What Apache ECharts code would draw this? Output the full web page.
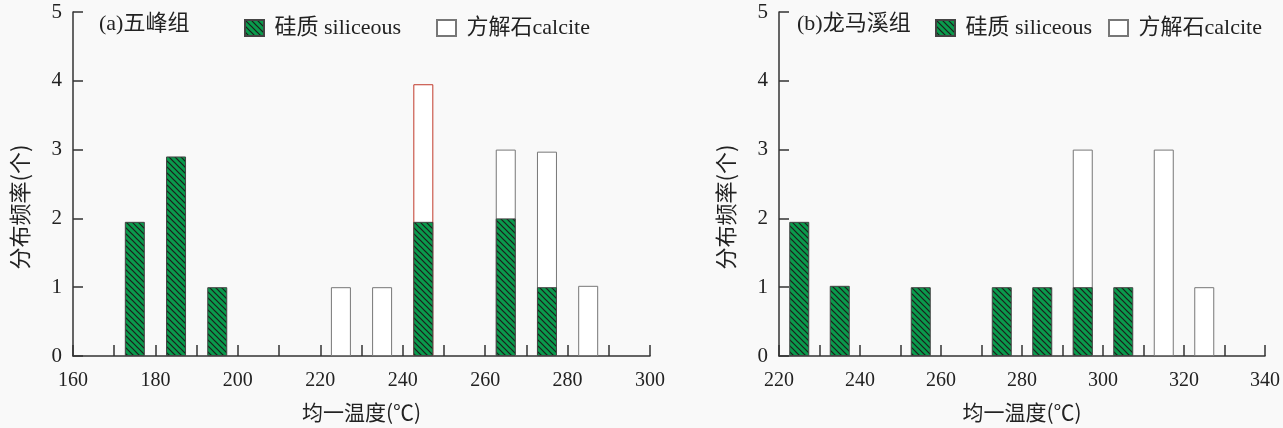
<!DOCTYPE html>
<html>
<head>
<meta charset="utf-8">
<script src="https://cdn.jsdelivr.net/npm/echarts@6.0.0/dist/echarts.min.js"></script>
<style>
  html, body { margin: 0; padding: 0; background: #f9f9f9; }
  #chart { width: 1283px; height: 428px; }
</style>
</head>
<body>
<div id="chart"></div>
<script>
// (a) 五峰组 -- bin centres and counts
const binsA = [175, 185, 195, 225, 235, 245, 265, 275, 285];
const siliceousA = [1.95, 2.9, 1, '-', '-', 1.95, 2, 1, '-'];
const calciteA = ['-', '-', '-', 1, 1, 2, 1, 1.97, 1.02];
// (b) 龙马溪组
const binsB = [225, 235, 255, 275, 285, 295, 305, 315, 325];
const siliceousB = [1.95, 1.02, 1, 1, 1, 1, 1, '-', '-'];
const calciteB = ['-', '-', '-', '-', '-', 2, '-', 3, 1];

const xRangeA = [160, 300];
const xRangeB = [220, 340];
const yRange = [0, 5];

const titles = ['(a)五峰组', '(b)龙马溪组'];
const nameSil = '硅质 siliceous';
const nameCal = '方解石calcite';

const SERIF = '"Liberation Serif", "Noto Sans CJK SC", serif';
const CJK = '"Noto Sans CJK SC", "Liberation Serif", sans-serif';

// green fill with black "\" hatching
function hatch() {
  const s = 6;
  const c = document.createElement('canvas');
  c.width = s; c.height = s;
  const g = c.getContext('2d');
  g.fillStyle = '#0a9a4c';
  g.fillRect(0, 0, s, s);
  g.strokeStyle = '#1c1c1c';
  g.lineWidth = 1.2;
  g.beginPath();
  g.moveTo(-1, -1); g.lineTo(s + 1, s + 1);
  g.moveTo(-1, s - 1); g.lineTo(1, s + 1);
  g.moveTo(s - 1, -1); g.lineTo(s + 1, 1);
  g.stroke();
  return c;
}
const hatchFill = { image: hatch(), repeat: 'repeat' };

const pairs = (bins, vals) => bins.map((b, i) => [b, vals[i]]);
// calcite sits on top of the siliceous part of the same bin
const tops = (sil, cal) => cal.map((c, i) => (c === '-' ? '-' : c + (sil[i] === '-' ? 0 : sil[i])));

function xAxisOf(idx, range) {
  return {
    type: 'value', gridIndex: idx, min: range[0], max: range[1], interval: 10,
    name: '均一温度(℃)', nameLocation: 'middle', nameGap: 46,
    nameTextStyle: { fontFamily: CJK, fontSize: 21, color: '#222' },
    axisLine: { lineStyle: { color: '#333', width: 1.5 } },
    axisTick: { inside: true, length: 11, lineStyle: { color: '#333', width: 1.5 } },
    axisLabel: {
      fontFamily: SERIF, fontSize: 20, color: '#222', margin: 15,
      formatter: v => (v % 20 === 0 ? v : '')
    },
    splitLine: { show: false }
  };
}
function yAxisOf(idx) {
  return {
    type: 'value', gridIndex: idx, min: yRange[0], max: yRange[1], interval: 1,
    name: '分布频率(个)', nameLocation: 'middle', nameGap: 42, nameRotate: 90,
    nameTextStyle: { fontFamily: CJK, fontSize: 22, color: '#222', padding: [0, 46, 0, 0] },
    axisLine: { show: true, lineStyle: { color: '#333', width: 1.5 } },
    axisTick: { show: true, inside: true, length: 10, lineStyle: { color: '#333', width: 1.5 } },
    axisLabel: { fontFamily: SERIF, fontSize: 21, color: '#222', margin: 11 },
    splitLine: { show: false }
  };
}
function silSeries(idx, bins, vals) {
  return {
    name: nameSil, type: 'bar', xAxisIndex: idx, yAxisIndex: idx,
    barWidth: 20, barGap: '-100%', z: 3, data: pairs(bins, vals),
    itemStyle: { color: hatchFill, borderColor: '#444', borderWidth: 1 }
  };
}
function calSeries(idx, bins, sil, cal, redAt) {
  return {
    name: nameCal, type: 'bar', xAxisIndex: idx, yAxisIndex: idx,
    barWidth: 20, barGap: '-100%', z: 2,
    data: pairs(bins, tops(sil, cal)).map(p => (p[0] === redAt ? { value: p, itemStyle: { borderColor: '#c0392b' } } : p)),
    itemStyle: { color: '#ffffff', borderColor: '#777', borderWidth: 1 }
  };
}
function legendOf(name, left) {
  return {
    data: [name], left: left, top: 12, icon: 'rect', itemWidth: 19, itemHeight: 16,
    formatter: n => ' ' + n,
    textStyle: { fontFamily: SERIF, fontSize: 22, color: '#222' }
  };
}

const chart = echarts.init(document.getElementById('chart'));
chart.setOption({
  backgroundColor: '#f9f9f9',
  animation: false,
  title: [
    { text: titles[0], left: 94, top: 8, textStyle: { fontFamily: SERIF, fontSize: 22, fontWeight: 'normal', color: '#222' } },
    { text: titles[1], left: 792, top: 8, textStyle: { fontFamily: SERIF, fontSize: 22, fontWeight: 'normal', color: '#222' } }
  ],
  legend: [
    legendOf(nameSil, 239), legendOf(nameCal, 431),
    legendOf(nameSil, 930), legendOf(nameCal, 1103)
  ],
  grid: [
    { left: 73, top: 12, width: 577, height: 348 },
    { left: 779, top: 12, width: 491, height: 347 }
  ],
  xAxis: [xAxisOf(0, xRangeA), xAxisOf(1, xRangeB)],
  yAxis: [yAxisOf(0), yAxisOf(1)],
  series: [
    calSeries(0, binsA, siliceousA, calciteA, 245),
    silSeries(0, binsA, siliceousA),
    calSeries(1, binsB, siliceousB, calciteB, null),
    silSeries(1, binsB, siliceousB)
  ]
});
</script>
</body>
</html>
